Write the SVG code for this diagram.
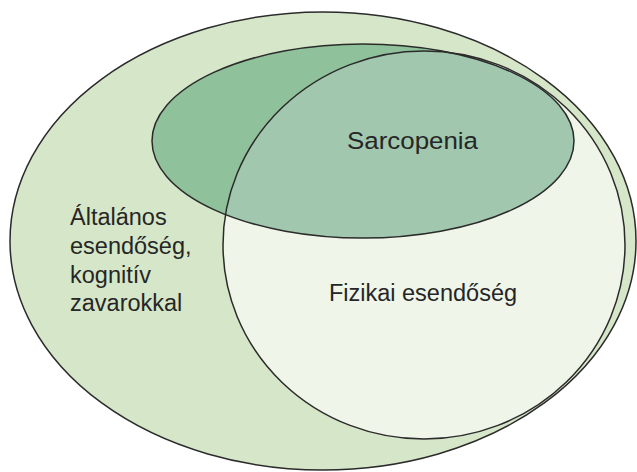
<svg xmlns="http://www.w3.org/2000/svg" width="637" height="472" viewBox="0 0 637 472">
<style>
.edge{fill:none;stroke:#2b2b2b;stroke-width:1.5}
.lbl{font-family:"Liberation Sans",Arial,sans-serif;font-size:23.5px;fill:#262626}
</style>
<defs>
<clipPath id="clipFiz"><ellipse cx="424" cy="245" rx="201" ry="194"/></clipPath>
</defs>
<rect width="637" height="472" fill="#ffffff"/>
<g id="outer">
<ellipse cx="323" cy="241" rx="313" ry="229" fill="#d6e6c8"/>
</g>
<g id="fizikai">
<ellipse cx="424" cy="245" rx="201" ry="194" fill="#eff5e8"/>
</g>
<g id="sarcopenia">
<ellipse cx="363" cy="141" rx="211" ry="97" fill="#8fc29b"/>
<ellipse cx="363" cy="141" rx="211" ry="97" fill="#a1c7af" clip-path="url(#clipFiz)"/>
</g>
<g id="outlines">
<ellipse class="edge" cx="323" cy="241" rx="313" ry="229"/>
<ellipse class="edge" cx="424" cy="245" rx="201" ry="194"/>
<ellipse class="edge" cx="363" cy="141" rx="211" ry="97"/>
</g>
<g id="labels">
<text class="lbl" x="347" y="149" style="font-size:24.5px" textLength="131" lengthAdjust="spacingAndGlyphs">Sarcopenia</text>
<text class="lbl" x="423" y="301" text-anchor="middle">Fizikai esendőség</text>
<text class="lbl" x="70" y="225">Általános</text>
<text class="lbl" x="70" y="254">esendőség,</text>
<text class="lbl" x="70" y="283">kognitív</text>
<text class="lbl" x="70" y="311">zavarokkal</text>
</g>
</svg>
